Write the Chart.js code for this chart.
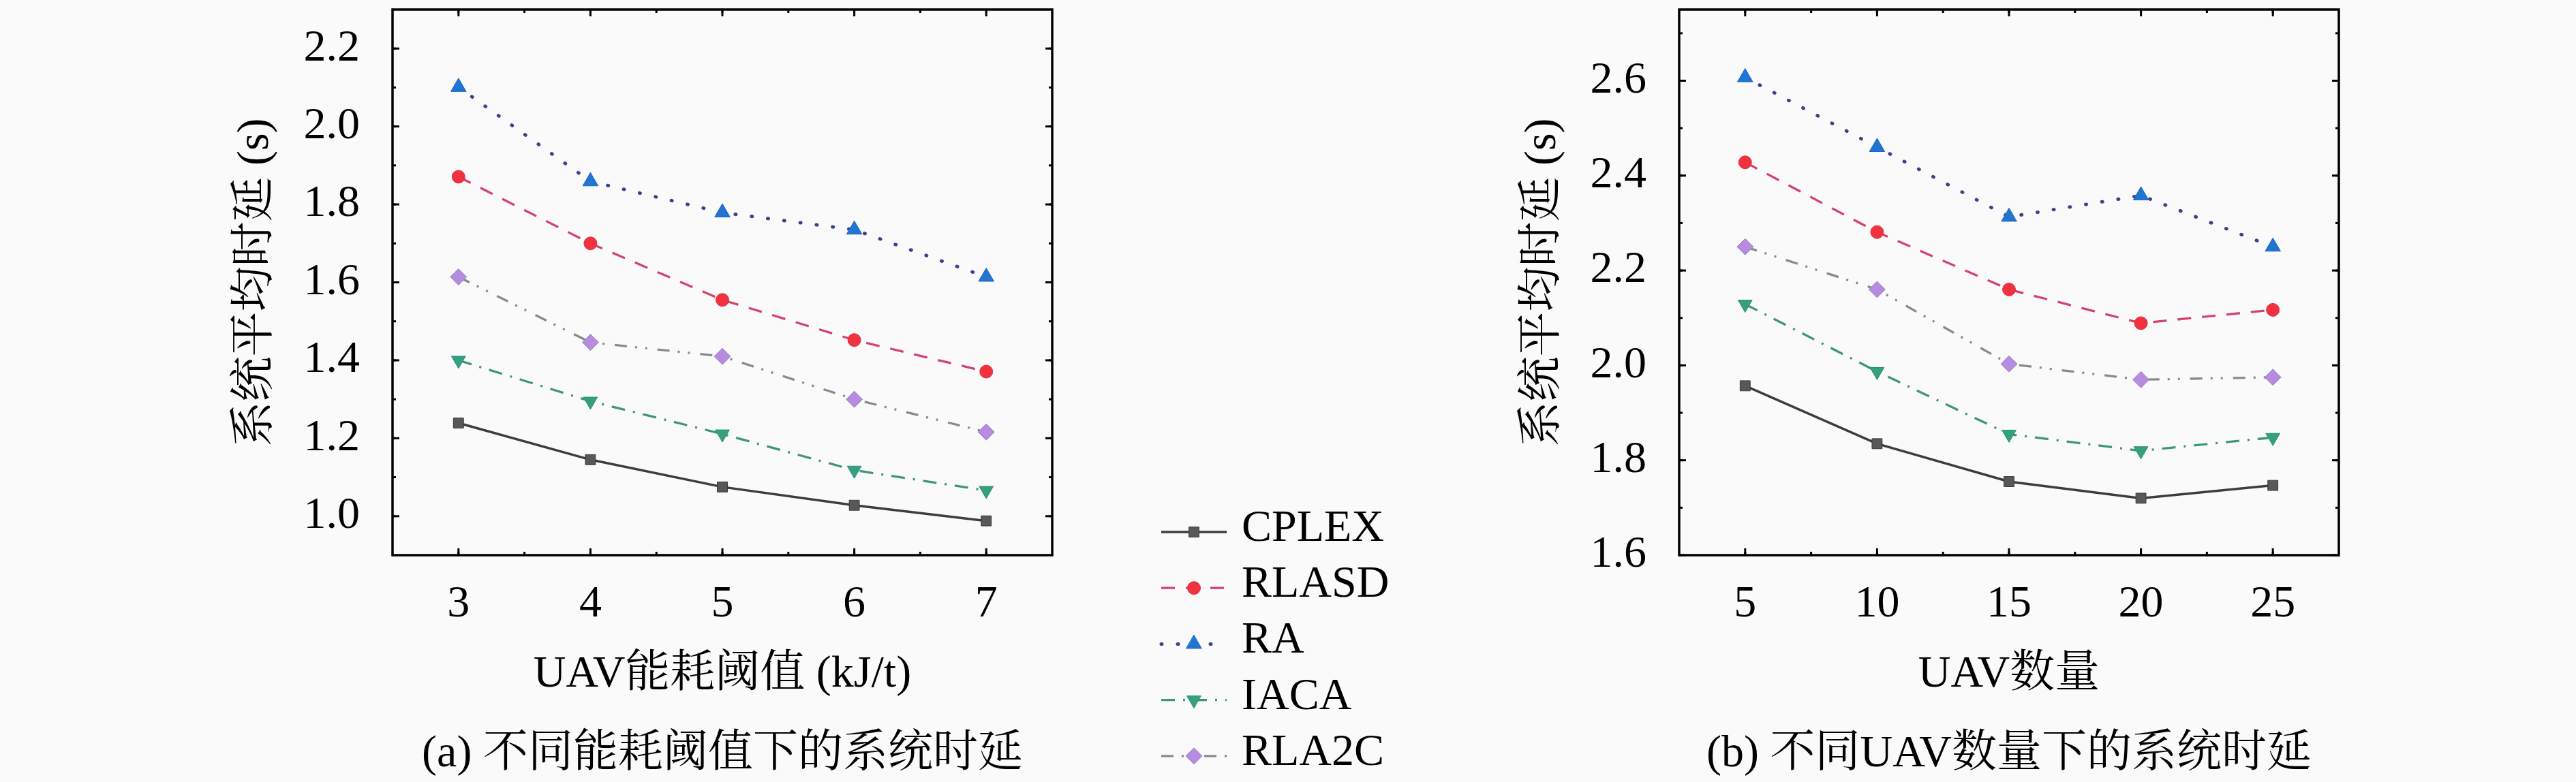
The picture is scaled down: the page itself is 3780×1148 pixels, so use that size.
<!DOCTYPE html>
<html><head><meta charset="utf-8">
<script src="https://cdn.jsdelivr.net/npm/chart.js@4.4.1/dist/chart.umd.min.js"></script>
<style>
html,body{margin:0;padding:0;background:#fafafa;}
#wrap{position:relative;width:3780px;height:1148px;overflow:hidden;}
#ca{position:absolute;left:0;top:0;}
#cb{position:absolute;left:2150px;top:0;}
</style></head>
<body><div id="wrap">
<canvas id="ca" width="2150" height="1148"></canvas>
<canvas id="cb" width="1630" height="1148"></canvas>
</div>
<script>
// ---------- data ----------
const seriesNames = ['CPLEX', 'RLASD', 'RA', 'IACA', 'RLA2C'];
const thresholdX = [3, 4, 5, 6, 7];
const uavX = [5, 10, 15, 20, 25];

const cplexA = [1.239, 1.145, 1.075, 1.028, 0.988];
const rlasdA = [1.871, 1.700, 1.555, 1.452, 1.371];
const raA    = [2.101, 1.859, 1.779, 1.735, 1.614];
const iacaA  = [1.400, 1.295, 1.211, 1.118, 1.066];
const rla2cA = [1.614, 1.446, 1.410, 1.300, 1.216];

const cplexB = [1.957, 1.835, 1.755, 1.720, 1.747];
const rlasdB = [2.428, 2.281, 2.160, 2.089, 2.117];
const raB    = [2.607, 2.460, 2.313, 2.358, 2.250];
const iacaB  = [2.129, 1.987, 1.855, 1.820, 1.848];
const rla2cB = [2.250, 2.160, 2.003, 1.970, 1.975];

const yTicksA = [1.0, 1.2, 1.4, 1.6, 1.8, 2.0, 2.2];
const yTicksB = [1.6, 1.8, 2.0, 2.2, 2.4, 2.6];
const xTicksA = [3, 4, 5, 6, 7];
const xTicksB = [5, 10, 15, 20, 25];

const yTitle = '系统平均时延 (s)';
const xTitleA = 'UAV能耗阈值 (kJ/t)';
const xTitleB = 'UAV数量';
const captionA = '(a) 不同能耗阈值下的系统时延';
const captionB = '(b) 不同UAV数量下的系统时延';

// ---------- styles ----------
const FONT = "'Liberation Serif', 'Noto Serif CJK SC', serif";
const FS = 66;
Chart.defaults.font.family = FONT;
Chart.defaults.font.size = FS;
Chart.defaults.color = '#000';

const styles = [
  {line:'#3d3d3d', fill:'#585858', edge:'#3a3a3a', ps:'rect', rot:0, r:10.5, dash:[], w:3.5, cap:'butt'},
  {line:'#d4436a', fill:'#f0323f', edge:'#e0304a', ps:'circle', rot:0, r:9.5, dash:[20,16], w:3.3, cap:'butt'},
  {line:'#3e408f', fill:'#2075d2', edge:'#1f66c0', ps:'triangle', rot:0, r:13, dash:[1,23], w:5, cap:'round'},
  {line:'#3f9580', fill:'#35a07f', edge:'#2f8f72', ps:'triangle', rot:180, r:12, dash:[20,12,3,12], w:3.3, cap:'butt'},
  {line:'#8a8a8a', fill:'#b68ce0', edge:'#a47ed0', ps:'rectRot', rot:0, r:12, dash:[18,12,3,12,3,15], w:3.3, cap:'butt'}
];

function makeDatasets(xs, arrays) {
  return arrays.map((arr, i) => {
    const s = styles[i];
    return {
      label: seriesNames[i],
      data: xs.map((x, k) => ({x: x, y: arr[k]})),
      borderColor: s.line, borderWidth: s.w, borderDash: s.dash, borderCapStyle: s.cap,
      backgroundColor: s.fill, pointBackgroundColor: s.fill, pointBorderColor: s.edge,
      pointBorderWidth: 1, pointStyle: s.ps, pointRotation: s.rot, pointRadius: s.r,
      pointHoverRadius: s.r, tension: 0, fill: false, clip: false
    };
  });
}

// frame + inward ticks on all four sides
const frameTicks = {
  id: 'frameTicks',
  afterDraw(chart, args, opts) {
    const {ctx, chartArea: a} = chart;
    const xs = chart.scales.x, ys = chart.scales.y;
    ctx.save();
    ctx.strokeStyle = '#000';
    const seg = (x1, y1, x2, y2) => { ctx.beginPath(); ctx.moveTo(x1, y1); ctx.lineTo(x2, y2); ctx.stroke(); };
    ctx.lineWidth = 3;
    const tx = (v, len) => { const p = xs.getPixelForValue(v); seg(p, a.bottom, p, a.bottom - len); seg(p, a.top, p, a.top + len); };
    const ty = (v, len) => { const p = ys.getPixelForValue(v); seg(a.left, p, a.left + len, p); seg(a.right, p, a.right - len, p); };
    for (let v = xs.min + opts.xMinor; v < xs.max - 1e-9; v += opts.xMinor) tx(v, 5);
    xs.ticks.forEach(t => tx(t.value, 10));
    for (let v = ys.min + opts.yMinor; v < ys.max - 1e-9; v += opts.yMinor) ty(v, 5);
    ys.ticks.forEach(t => ty(t.value, 10));
    ctx.lineWidth = 3.5;
    ctx.strokeRect(a.left, a.top, a.right - a.left, a.bottom - a.top);
    ctx.restore();
  }
};

function drawMarker(ctx, ds, x, y) {
  ctx.fillStyle = ds.pointBackgroundColor;
  ctx.strokeStyle = ds.pointBorderColor;
  ctx.lineWidth = ds.pointBorderWidth;
  ctx.setLineDash([]);
  if (Chart.helpers && Chart.helpers.drawPoint) {
    Chart.helpers.drawPoint(ctx, {pointStyle: ds.pointStyle, rotation: ds.pointRotation, radius: ds.pointRadius, borderWidth: ds.pointBorderWidth}, x, y);
  } else {
    ctx.beginPath(); ctx.arc(x, y, ds.pointRadius, 0, Math.PI * 2); ctx.fill();
  }
}

// custom legend (line sample + marker + text)
const sideLegend = {
  id: 'sideLegend',
  afterDraw(chart, args, opts) {
    if (!opts.show) return;
    const ctx = chart.ctx;
    ctx.save();
    chart.data.datasets.forEach((ds, i) => {
      const y = opts.top + i * opts.rowH;
      ctx.strokeStyle = ds.borderColor;
      ctx.lineWidth = ds.borderWidth;
      ctx.lineCap = ds.borderCapStyle;
      ctx.setLineDash(ds.borderDash);
      ctx.beginPath(); ctx.moveTo(opts.x0, y); ctx.lineTo(opts.x1, y); ctx.stroke();
      drawMarker(ctx, ds, (opts.x0 + opts.x1) / 2, y);
      ctx.fillStyle = '#000';
      ctx.font = FS + 'px ' + FONT;
      ctx.textAlign = 'left';
      ctx.textBaseline = 'alphabetic';
      ctx.fillText(ds.label, opts.textX, y + 13);
    });
    ctx.restore();
  }
};

function makeChart(canvas, xs, arrays, cfg) {
  return new Chart(canvas, {
    type: 'line',
    data: {datasets: makeDatasets(xs, arrays)},
    options: {
      responsive: false, animation: false, devicePixelRatio: 1,
      layout: {padding: {left: 0, top: 10, right: cfg.padRight, bottom: 0}},
      plugins: {
        legend: {display: false}, tooltip: {enabled: false},
        frameTicks: {xMinor: cfg.xMinor, yMinor: cfg.yMinor},
        sideLegend: cfg.legend
      },
      scales: {
        x: {
          type: 'linear', position: 'bottom', min: cfg.xMin, max: cfg.xMax,
          grid: {display: false, drawTicks: false}, border: {display: false},
          ticks: {padding: 33, color: '#000', font: {size: FS, family: FONT}, autoSkip: false, maxRotation: 0,
                  callback: v => String(v)},
          title: {display: true, text: [cfg.xTitle, cfg.caption], color: '#000',
                  font: {size: FS, family: FONT, lineHeight: 117 / FS}, padding: {top: 0, bottom: -18}},
          afterBuildTicks: s => { s.ticks = cfg.xTicks.map(v => ({value: v})); },
          afterFit: s => { s.height = 333; s.paddingLeft = 0; s.paddingRight = 0; }
        },
        y: {
          type: 'linear', position: 'left', min: cfg.yMin, max: cfg.yMax,
          grid: {display: false, drawTicks: false}, border: {display: false},
          ticks: {padding: 48, color: '#000', font: {size: FS, family: FONT}, autoSkip: false,
                  callback: v => Number(v).toFixed(1)},
          title: {display: true, text: yTitle, color: '#000', font: {size: FS, family: FONT, lineHeight: 1.2},
                  padding: {top: cfg.yTitlePad, bottom: 0}},
          afterBuildTicks: s => { s.ticks = cfg.yTicks.map(v => ({value: v})); },
          afterFit: s => { s.width = cfg.yWidth; s.paddingTop = 0; s.paddingBottom = 0; }
        }
      }
    },
    plugins: [frameTicks, sideLegend]
  });
}

makeChart(document.getElementById('ca'), thresholdX, [cplexA, rlasdA, raA, iacaA, rla2cA], {
  padRight: 2150 - 1544, yWidth: 576, yTitlePad: 336,
  xMin: 2.5, xMax: 7.5, yMin: 0.9, yMax: 2.3, xMinor: 0.5, yMinor: 0.1,
  xTicks: xTicksA, yTicks: yTicksA, xTitle: xTitleA, caption: captionA,
  legend: {show: true, x0: 1704, x1: 1800, textX: 1822, top: 781, rowH: 82.2}
});
makeChart(document.getElementById('cb'), uavX, [cplexB, rlasdB, raB, iacaB, rla2cB], {
  padRight: 1630 - 1282, yWidth: 314, yTitlePad: 75,
  xMin: 2.5, xMax: 27.5, yMin: 1.6, yMax: 2.75, xMinor: 2.5, yMinor: 0.1,
  xTicks: xTicksB, yTicks: yTicksB, xTitle: xTitleB, caption: captionB,
  legend: {show: false}
});
</script>
</body></html>
